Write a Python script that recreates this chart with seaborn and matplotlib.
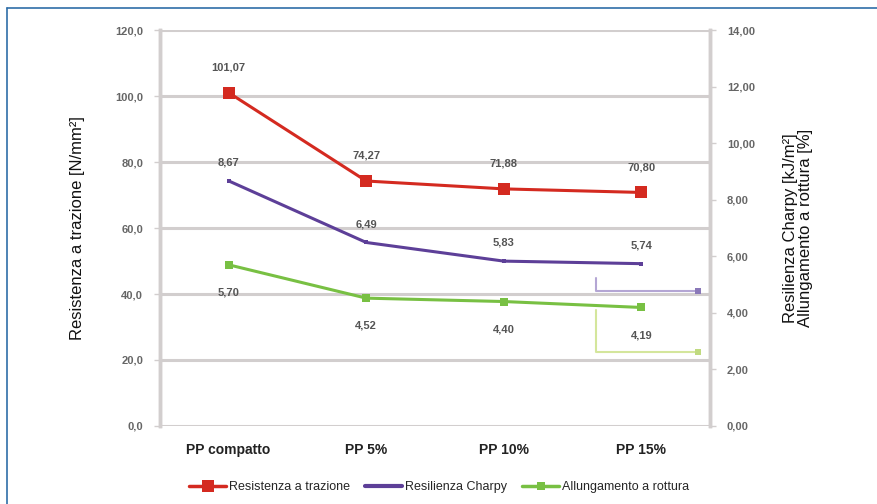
import matplotlib
matplotlib.use("Agg")
import matplotlib.pyplot as plt
from matplotlib.lines import Line2D
import pandas as pd
import seaborn as sns

# data
categories = ["PP compatto", "PP 5%", "PP 10%", "PP 15%"]
trazione = [101.07, 74.27, 71.88, 70.80]
charpy = [8.67, 6.49, 5.83, 5.74]
allungamento = [5.70, 4.52, 4.40, 4.19]

left_ticks = [0, 20, 40, 60, 80, 100, 120]
right_ticks = [0, 2, 4, 6, 8, 10, 12, 14]

# leader lines towards the right axis (x in category units, y on right axis)
charpy_leader_x = [2.67, 2.67, 3.41]
charpy_leader_y = [5.23, 4.77, 4.77]
allung_leader_x = [2.67, 2.67, 3.41]
allung_leader_y = [4.10, 2.61, 2.61]

RED = "#d42a20"
PURPLE = "#5d3f98"
GREEN = "#78c043"
GRID = "#d2cece"

sns.set_style("white")
plt.rcParams["font.family"] = ["Liberation Sans", "DejaVu Sans"]

df = pd.DataFrame({"cat": categories, "trazione": trazione,
                   "charpy": charpy, "allungamento": allungamento})
df["pos"] = range(len(df))

fig = plt.figure(figsize=(8.78, 5.04), dpi=100)
ax = fig.add_axes([0.182, 0.155, 0.627, 0.785])
ax2 = ax.twinx()

# grid on left axis
for t in left_ticks:
    ax.axhline(t, color=GRID, lw=2.2, zorder=0)

sns.lineplot(data=df, x="pos", y="trazione", ax=ax, color=RED, lw=2.2,
             marker="s", markersize=9, markeredgewidth=0, zorder=5)
sns.lineplot(data=df, x="pos", y="charpy", ax=ax2, color=PURPLE, lw=2.2,
             marker="s", markersize=3, markeredgewidth=0, zorder=5)
sns.lineplot(data=df, x="pos", y="allungamento", ax=ax2, color=GREEN, lw=2.2,
             marker="s", markersize=6, markeredgewidth=0, zorder=5)

ax2.plot(charpy_leader_x, charpy_leader_y, color="#b4a6d4", lw=1.5)
ax2.plot(charpy_leader_x[-1:], charpy_leader_y[-1:], marker="s", ms=5,
         color="#8a78b8", mew=0)
ax2.plot(allung_leader_x, allung_leader_y, color="#d4e69c", lw=1.5)
ax2.plot(allung_leader_x[-1:], allung_leader_y[-1:], marker="s", ms=5,
         color="#c0da80", mew=0)

def fmt(v, d):
    return f"{v:.{d}f}".replace(".", ",")

lab_kw = dict(ha="center", fontsize=8, fontweight="bold", color="#555555")
for i, v in enumerate(trazione):
    ax.annotate(fmt(v, 2), (i, v), xytext=(0, 16), textcoords="offset points",
                **lab_kw)
for i, v in enumerate(charpy):
    ax2.annotate(fmt(v, 2), (i, v), xytext=(0, 11), textcoords="offset points",
                 **lab_kw)
for i, v in enumerate(allungamento):
    ax2.annotate(fmt(v, 2), (i, v), xytext=(0, -22), textcoords="offset points",
                 **lab_kw)

ax.set_xlim(-0.5, 3.5)
ax.set_ylim(0, 120)
ax2.set_ylim(0, 14)
ax.set_xticks(range(len(categories)))
ax.set_xticklabels(categories, fontsize=10, fontweight="bold", color="#222222")
ax.set_yticks(left_ticks)
ax.set_yticklabels([fmt(t, 1) for t in left_ticks], fontsize=8,
                   fontweight="bold", color="#666666")
ax2.set_yticks(right_ticks)
ax2.set_yticklabels([fmt(t, 2) for t in right_ticks], fontsize=8,
                    fontweight="bold", color="#666666")
ax.tick_params(axis="x", length=0, pad=12)
ax.tick_params(axis="y", length=4, width=1, color=GRID, pad=8)
ax2.tick_params(axis="y", length=4, width=1, color=GRID, pad=8)
ax.set_xlabel("")
ax.set_ylabel("Resistenza a trazione [N/mm²]", fontsize=12, labelpad=22,
              color="#111111")
ax2.set_ylabel("Resilienza Charpy [kJ/m²]\nAllungamento a rottura [%]",
               fontsize=12, labelpad=20, color="#111111", linespacing=1.0)

for a in (ax, ax2):
    a.spines["top"].set_visible(False)
    a.spines["bottom"].set_visible(False)
    a.spines["left"].set_color(GRID)
    a.spines["right"].set_color(GRID)
    a.spines["left"].set_linewidth(2.5)
    a.spines["right"].set_linewidth(2.5)

handles = [
    Line2D([], [], color=RED, lw=2.5, marker="s", ms=9, mew=0),
    Line2D([], [], color=PURPLE, lw=3),
    Line2D([], [], color=GREEN, lw=2.5, marker="s", ms=6, mew=0),
]
fig.legend(handles, ["Resistenza a trazione", "Resilienza Charpy",
                     "Allungamento a rottura"],
           loc="center", bbox_to_anchor=(0.5, 0.033), ncol=3, frameon=False,
           fontsize=9, handlelength=3, columnspacing=1.2, handletextpad=0.2)

# blue frame on left and top
fig.add_artist(Line2D([0.008, 0.008], [0, 0.985], color="#2f6ea8", lw=1.2,
                      transform=fig.transFigure))
fig.add_artist(Line2D([0.008, 1.0], [0.985, 0.985], color="#2f6ea8", lw=1.2,
                      transform=fig.transFigure))

fig.savefig("out.png", dpi=100)
